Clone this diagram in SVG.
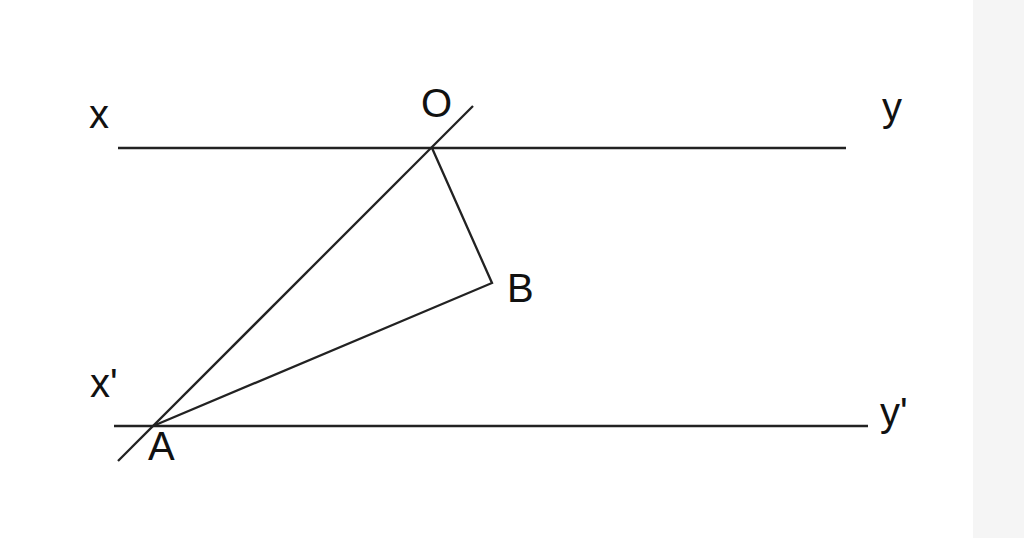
<svg xmlns="http://www.w3.org/2000/svg" width="1024" height="538" viewBox="0 0 1024 538">
<style>
.ln{stroke:#222;stroke-width:2.3;fill:none;stroke-linecap:butt}
.lb{font-family:"Liberation Sans",Arial,sans-serif;font-size:40px;fill:#111}
</style>
<rect x="0" y="0" width="1024" height="538" fill="#fff"/>
<rect x="973" y="0" width="51" height="538" fill="#f5f5f5"/>
<g id="connectors">
<line class="ln" x1="118" y1="148" x2="846" y2="148"/>
<line class="ln" x1="114" y1="426" x2="868" y2="426"/>
<line class="ln" x1="118" y1="461" x2="473" y2="106"/>
<polyline class="ln" points="432,148 492,283 153,426"/>
</g>
<g id="labels">
<text class="lb" x="89" y="128">x</text>
<text class="lb" x="421" y="117">O</text>
<text class="lb" x="882" y="121">y</text>
<text class="lb" x="507" y="302">B</text>
<text class="lb" x="90" y="397">x'</text>
<text class="lb" x="148" y="460">A</text>
<text class="lb" x="880" y="426">y'</text>
</g>
</svg>
